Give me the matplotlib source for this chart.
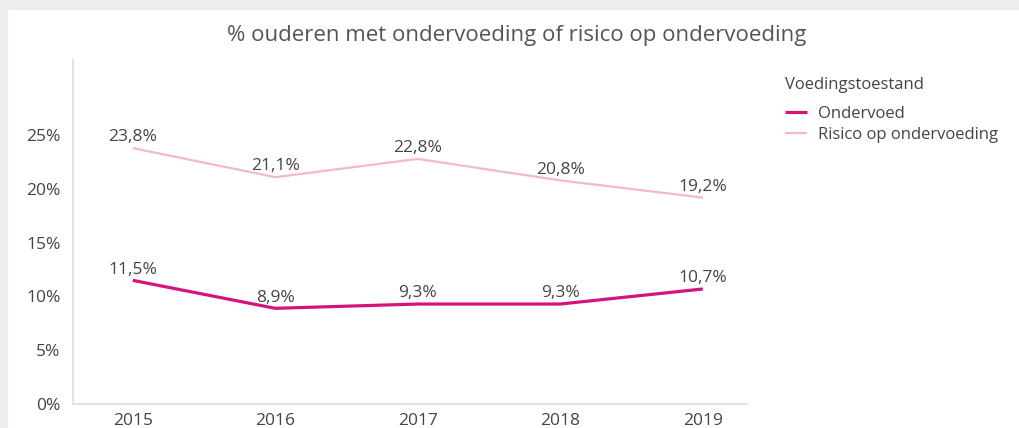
import matplotlib.pyplot as plt
from matplotlib.patches import Rectangle
from matplotlib.ticker import FuncFormatter

plt.rcParams['font.family'] = ['Open Sans', 'DejaVu Sans']

years = [2015, 2016, 2017, 2018, 2019]
ondervoed = [11.5, 8.9, 9.3, 9.3, 10.7]
risico = [23.8, 21.1, 22.8, 20.8, 19.2]
yticks = [0, 5, 10, 15, 20, 25]

dark_pink = '#d4147c'
light_pink = '#f5b8cb'
text_col = '#444444'

fig = plt.figure(figsize=(10.19, 4.28), dpi=100, facecolor='#eceeeb')
# white panel on grey background
fig.patches.append(Rectangle((8 / 1019, 0), 1, 418 / 428, transform=fig.transFigure,
                             facecolor='white', edgecolor='none', zorder=-10))

ax = fig.add_axes([73 / 1019, 24 / 428, 674 / 1019, 344 / 428])
ax.set_facecolor('none')

ax.plot(years, risico, color=light_pink, lw=1.6, label='Risico op ondervoeding', solid_capstyle='butt')
ax.plot(years, ondervoed, color=dark_pink, lw=2.3, label='Ondervoed', solid_capstyle='butt')

for series in (risico, ondervoed):
    for x, y in zip(years, series):
        ax.annotate(f'{y:.1f}%'.replace('.', ','), (x, y), xytext=(0, 2),
                    textcoords='offset points', ha='center', va='bottom',
                    fontsize=12.5, color=text_col)

ax.set_xlim(2015 - 0.42, 2019 + 0.31)
ax.set_ylim(0, 32)
ax.set_xticks(years)
ax.set_yticks(yticks)
ax.yaxis.set_major_formatter(FuncFormatter(lambda v, p: f'{v:.0f}%'))
ax.tick_params(length=0, labelsize=12.5, labelcolor=text_col)
ax.tick_params(axis='y', pad=9)
ax.tick_params(axis='x', pad=6.5)

for side in ('top', 'right'):
    ax.spines[side].set_visible(False)
for side in ('left', 'bottom'):
    ax.spines[side].set_color('#dddddd')
    ax.spines[side].set_linewidth(1.2)

fig.text(517 / 1019, 1 - 36 / 428, '% ouderen met ondervoeding of risico op ondervoeding',
         ha='center', va='center', fontsize=16, color='#555555')

handles, labels = ax.get_legend_handles_labels()
leg = fig.legend(handles[::-1], labels[::-1], title='Voedingstoestand',
                 loc='upper left', bbox_to_anchor=(770 / 1019, 1 - 62 / 428),
                 frameon=False, fontsize=12, title_fontsize=12,
                 handlelength=1.3, handletextpad=0.7, labelspacing=0.35,
                 alignment='left', labelcolor=text_col)
leg.get_title().set_color(text_col)
leg._legend_box.sep = 9

fig.savefig('out.png', dpi=100, facecolor=fig.get_facecolor())
